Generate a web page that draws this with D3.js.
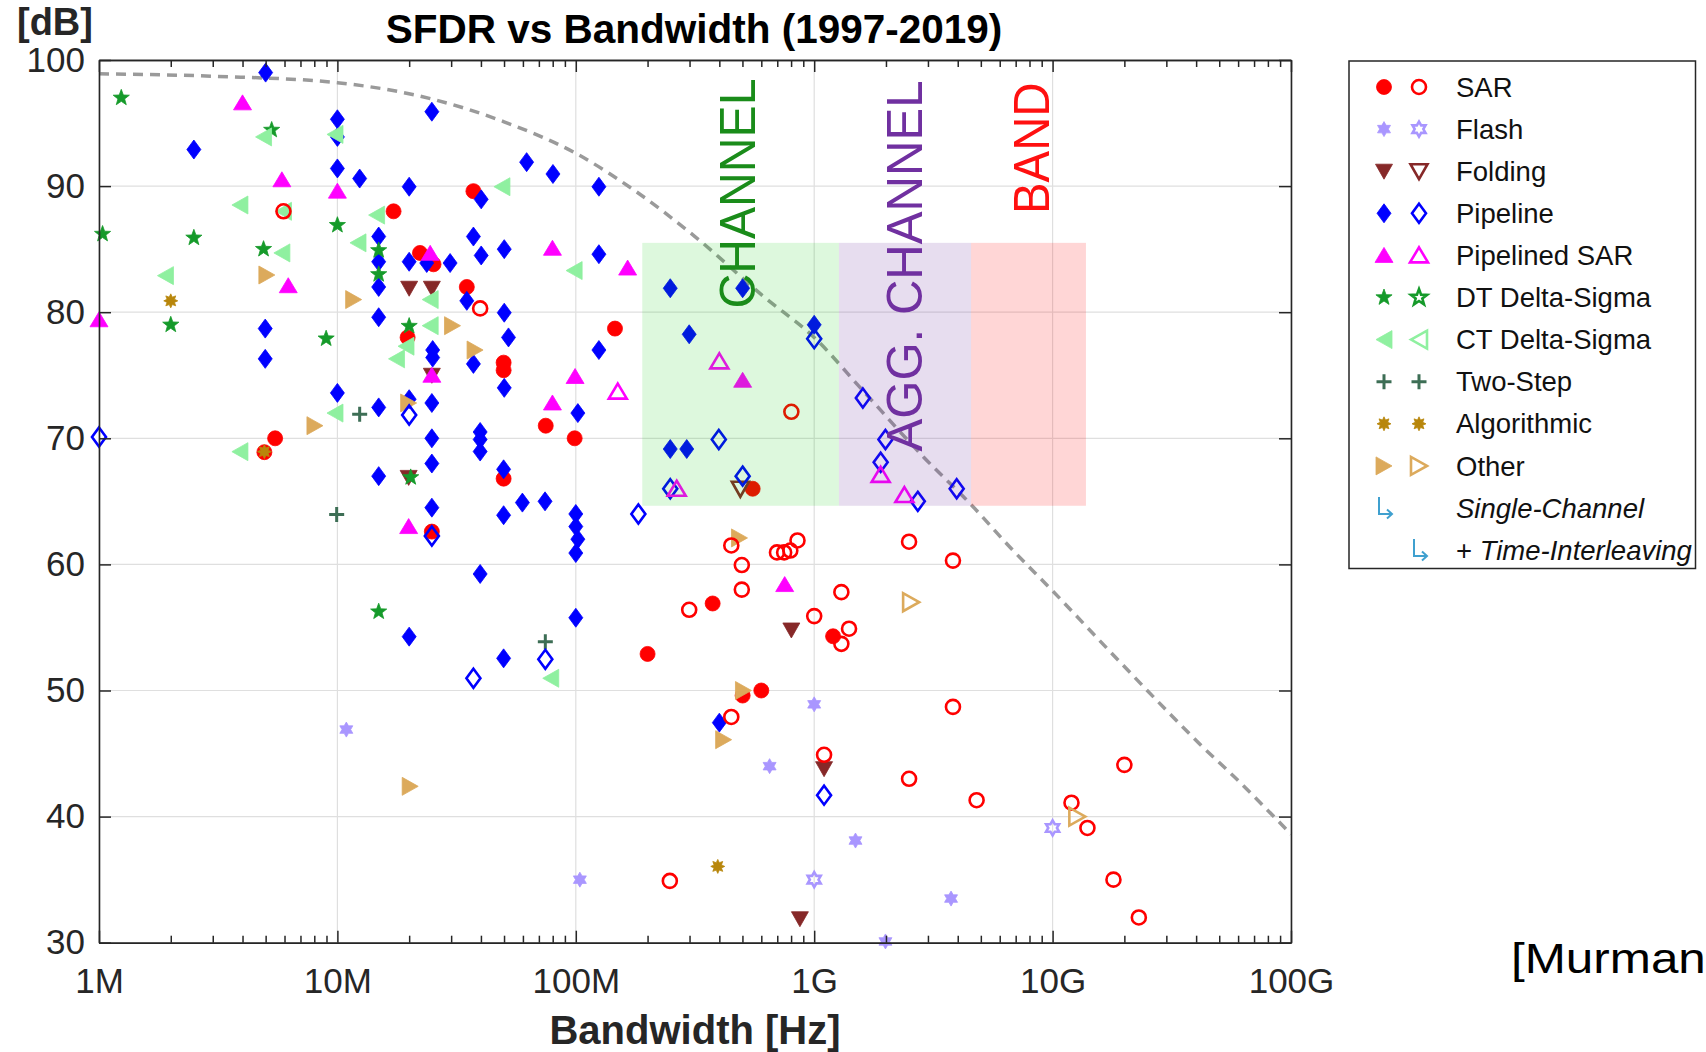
<!DOCTYPE html>
<html>
<head>
<meta charset="utf-8">
<script src="https://cdn.jsdelivr.net/npm/d3@7"></script>
<style>
  html, body { margin: 0; padding: 0; background: #fff; overflow: hidden; }
  svg { display: block; }
  text { font-family: "Liberation Sans", Arial, Helvetica, sans-serif; }
</style>
</head>
<body>
<div id="chart"></div>
<script>
// values: [bandwidth in Hz, SFDR in dB]
// "single" = single-channel (filled marker), "ti" = time-interleaved (open marker)
const sarSingle = [[17.2e6,88.0],[22.2e6,84.7],[25.3e6,83.8],[19.7e6,78.0],[34.9e6,82.0],[37.2e6,89.6],
  [49.8e6,76.0],[49.8e6,75.4],[49.8e6,66.8],[146e6,78.7],[74.8e6,71.0],[98.9e6,70.0],[5.48e6,70.0],
  [4.94e6,68.9],[24.9e6,62.6],[200e6,52.9],[375e6,56.9],[1.2e9,54.3],[501e6,49.6],[600e6,50.0],[552e6,66.0]];
const sarTI = [[5.94e6,88.0],[39.7e6,80.3],[802e6,72.1],[299e6,56.4],[248e6,34.9],[449e6,61.5],[698e6,60.95],
  [748e6,60.95],[794e6,61.1],[851e6,61.9],[497e6,59.95],[497e6,58.0],[2.5e9,61.8],[3.82e9,60.3],[1.3e9,57.8],
  [1.0e9,55.9],[1.4e9,54.9],[1.3e9,53.7],[3.82e9,48.7],[449e6,47.9],[1.1e9,44.9],[2.5e9,43.0],[4.8e9,41.3],
  [12e9,41.1],[14e9,39.1],[20e9,44.1],[18e9,35.0],[23e9,32.0]];
const flashSingle = [[10.9e6,46.9],[104e6,35.0],[1.0e9,48.9],[650e6,44.0],[1.49e9,38.1],[1.99e9,30.1],[3.75e9,33.5]];
const flashTI = [[1.0e9,35.0],[10e9,39.1]];
const foldingSingle = [[20e6,81.9],[24.9e6,81.9],[24.9e6,75.0],[19.9e6,66.9],[802e6,54.8],[1.1e9,43.8],[871e6,31.9]];
const foldingTI = [[490e6,66.0]];
const pipelineSingle = [[5.0e6,99.0],[2.5e6,92.9],[10e6,95.3],[10e6,93.9],[10e6,91.4],[12.4e6,90.6],[20e6,89.95],
  [24.9e6,95.9],[14.9e6,86.0],[14.9e6,84.0],[14.9e6,82.0],[14.9e6,79.6],[20e6,84.0],[23.7e6,83.9],[29.7e6,83.9],
  [4.98e6,78.7],[4.98e6,76.3],[25.1e6,77.0],[25.1e6,76.4],[34.9e6,80.9],[37.2e6,86.0],[40.1e6,88.95],[40.1e6,84.5],
  [50.1e6,85.0],[50.1e6,79.96],[52.2e6,78.0],[62.2e6,91.9],[80.2e6,90.96],[125e6,89.95],[125e6,84.6],[125e6,77.0],
  [37.2e6,75.9],[50.1e6,74.0],[102e6,72.0],[10e6,73.6],[14.9e6,72.45],[20e6,73.1],[24.9e6,72.8],[24.9e6,70.0],
  [39.7e6,70.5],[39.7e6,69.9],[39.7e6,68.95],[24.9e6,68.0],[49.8e6,67.54],[14.9e6,67.0],[24.9e6,64.5],[49.8e6,63.9],
  [59.7e6,64.9],[74.3e6,65.0],[100e6,64.0],[100e6,63.0],[102e6,62.0],[100e6,60.9],[39.7e6,59.24],[100e6,55.77],
  [20e6,54.27],[49.8e6,52.55],[249e6,81.9],[501e6,81.9],[299e6,78.25],[1.0e9,79.0],[249e6,69.15],[292e6,69.15],
  [400e6,47.45]];
const pipelineTI = [[1e6,70.1],[20e6,71.85],[24.9e6,62.25],[183e6,64.0],[74.5e6,52.47],[37.2e6,50.97],[1.0e9,77.9],
  [1.6e9,73.2],[398e6,69.9],[1.99e9,69.9],[1.9e9,68.1],[501e6,67.0],[249e6,66.0],[2.72e9,65.0],[3.96e9,66.0],[1.1e9,41.7]];
const psarSingle = [[4.0e6,96.6],[5.85e6,90.5],[10e6,89.6],[1e6,79.4],[6.22e6,82.1],[24.5e6,84.67],[24.9e6,75.0],
  [79.8e6,85.07],[165e6,83.5],[99.3e6,74.9],[79.8e6,72.8],[19.9e6,63.0],[501e6,74.6],[752e6,58.4]];
const psarTI = [[150e6,73.7],[400e6,76.1],[265e6,66.0],[1.9e9,67.1],[2.39e9,65.5]];
const dtSingle = [[1.24e6,97.0],[5.3e6,94.45],[1.035e6,86.2],[2.5e6,85.9],[10e6,86.9],[4.9e6,85.0],[14.9e6,84.9],
  [14.9e6,83.0],[2.0e6,79.0],[8.97e6,77.9],[20e6,78.9],[20.3e6,66.9],[14.9e6,56.25]];
const dtTI = [];
const ctSingle = [[4.9e6,93.9],[9.77e6,94.1],[3.9e6,88.5],[5.94e6,88.0],[14.6e6,87.7],[12.2e6,85.5],[5.85e6,84.7],
  [1.9e6,82.9],[24.5e6,81.0],[24.5e6,78.93],[19.4e6,77.3],[17.7e6,76.3],[9.77e6,72.0],[3.9e6,68.94],[49e6,89.95],
  [98.4e6,83.3],[78.5e6,50.97]];
const ctTI = [];
const twoStepSingle = [[12.4e6,71.9],[9.93e6,63.95],[74.5e6,53.87]];
const twoStepTI = [];
const algSingle = [[2.0e6,80.9],[4.94e6,68.94],[394e6,36.05]];
const algTI = [];
const otherSingle = [[5.06e6,82.95],[11.7e6,81.0],[30.4e6,78.93],[37.8e6,77.0],[19.9e6,72.8],[8.05e6,71.0],
  [20.2e6,42.4],[486e6,62.1],[505e6,50.0],[417e6,46.1]];
const otherTI = [[2.55e9,57.0],[12.7e9,40.0]];

// dashed limit curve
const limitCurve = [[1e6,98.9],[3.16e6,98.7],[1e7,98.2],[2.5e7,96.9],[5e7,95.1],[1e8,92.6],[1.78e8,89.6],
  [3.16e8,86.0],[6.17e8,81.2],[1e9,78.0],[1.58e9,73.9],[2.88e9,68.5],[4.52e9,64.8],[6.6e9,61.4],[1e10,57.9],
  [1.78e10,52.9],[3.16e10,48.0],[4.17e10,45.7],[5.75e10,43.2],[1e11,38.6]];

// shaded regions: [from Hz, to Hz], SFDR band
const regionEdges = [190e6, 1.27e9, 4.55e9, 13.8e9];
const regionBand = [64.65, 85.5];
const regionLabels = ["CHANNEL", "AGG. CHANNEL", "BAND"];

const xTicks = [1e6, 1e7, 1e8, 1e9, 1e10, 1e11];
const xTickLabels = ["1M", "10M", "100M", "1G", "10G", "100G"];
const yTicks = [30, 40, 50, 60, 70, 80, 90, 100];

const dims = { width: 1706, height: 1052, left: 99, right: 1291, top: 60, bottom: 942.7 };

function polygon(pts) { return "M" + pts.map(p => p.join(",")).join("L") + "Z"; }
function starPath(n, R, r) {
  const pts = [];
  for (let k = 0; k < 2 * n; k++) {
    const a = -Math.PI / 2 + k * Math.PI / n;
    const rad = k % 2 === 0 ? R : r;
    pts.push([(rad * Math.cos(a)).toFixed(2), (rad * Math.sin(a)).toFixed(2)]);
  }
  return polygon(pts);
}
const shapes = {
  circle: "M-7.5,0A7.5,7.5 0 1,0 7.5,0A7.5,7.5 0 1,0 -7.5,0Z",
  circleOpen: "M-7,0A7,7 0 1,0 7,0A7,7 0 1,0 -7,0Z",
  hexagram: starPath(6, 7.5, 7.5 / Math.sqrt(3)),
  triDown: polygon([[-8.5,-7],[8.5,-7],[0,8]]),
  diamond: polygon([[0,-9.5],[7,0],[0,9.5],[-7,0]]),
  triUp: polygon([[0,-8],[9,7],[-9,7]]),
  pentagram: starPath(5, 8.5, 3.5),
  triLeft: polygon([[-8,0],[8,-9],[8,9]]),
  plus: "M-7.5,0H7.5M0,-7.5V7.5",
  burst: starPath(8, 7, 4),
  triRight: polygon([[8,0],[-8,-9],[-8,9]])
};

const series = [
  { name: "SAR", color: "#ff0000", shape: "circle", single: sarSingle, ti: sarTI },
  { name: "Flash", color: "#a996ff", shape: "hexagram", single: flashSingle, ti: flashTI },
  { name: "Folding", color: "#862828", shape: "triDown", single: foldingSingle, ti: foldingTI },
  { name: "Pipeline", color: "#0000ff", shape: "diamond", single: pipelineSingle, ti: pipelineTI },
  { name: "Pipelined SAR", color: "#ff00ff", shape: "triUp", single: psarSingle, ti: psarTI },
  { name: "DT Delta-Sigma", color: "#159a2a", shape: "pentagram", single: dtSingle, ti: dtTI },
  { name: "CT Delta-Sigma", color: "#8ff0a0", shape: "triLeft", single: ctSingle, ti: ctTI },
  { name: "Two-Step", color: "#3d6e55", shape: "plus", single: twoStepSingle, ti: twoStepTI, lineOnly: true },
  { name: "Algorithmic", color: "#b8860b", shape: "burst", single: algSingle, ti: algTI, sameOpen: true },
  { name: "Other", color: "#dcaa5c", shape: "triRight", single: otherSingle, ti: otherTI }
];

function styleMarker(sel, s, open) {
  if (s.lineOnly) {
    sel.attr("d", shapes.plus).attr("fill", "none").attr("stroke", s.color).attr("stroke-width", 3);
  } else if (open && !s.sameOpen) {
    sel.attr("d", s.shape === "circle" ? shapes.circleOpen : shapes[s.shape])
      .attr("fill", "none").attr("stroke", s.color).attr("stroke-width", 2.6);
  } else {
    sel.attr("d", shapes[s.shape]).attr("fill", s.color).attr("stroke", s.color).attr("stroke-width", 0.8);
  }
}

const svg = d3.select("#chart").append("svg")
  .attr("width", dims.width).attr("height", dims.height);

const x = d3.scaleLog().domain([1e6, 1e11]).range([dims.left, dims.right]);
const y = d3.scaleLinear().domain([30, 100]).range([dims.bottom, dims.top]);

// grid
const grid = svg.append("g").attr("stroke", "#dfdfdf").attr("stroke-width", 1.2);
grid.selectAll(null).data(xTicks).join("line")
  .attr("x1", d => x(d)).attr("x2", d => x(d)).attr("y1", dims.top).attr("y2", dims.bottom);
grid.selectAll(null).data(yTicks).join("line")
  .attr("y1", d => y(d)).attr("y2", d => y(d)).attr("x1", dims.left).attr("x2", dims.right);

// dashed curve
svg.append("path")
  .datum(limitCurve)
  .attr("fill", "none").attr("stroke", "#9a9a9a").attr("stroke-width", 3.5)
  .attr("stroke-dasharray", "10,7")
  .attr("d", d3.line().x(d => x(d[0])).y(d => y(d[1])).curve(d3.curveMonotoneX));

// markers: single-channel first, interleaved on top
const markG = svg.append("g");
series.forEach(s => {
  markG.selectAll(null).data(s.single).join("path")
    .attr("transform", d => `translate(${x(d[0])},${y(d[1])})`)
    .call(sel => styleMarker(sel, s, false));
});
series.forEach(s => {
  markG.selectAll(null).data(s.ti).join("path")
    .attr("transform", d => `translate(${x(d[0])},${y(d[1])})`)
    .call(sel => styleMarker(sel, s, true));
});

// translucent regions above the markers
const regionFill = [["rgb(0,200,0)", 0.135], ["#7030a0", 0.165], ["#ff0000", 0.16]];
regionFill.forEach((f, i) => {
  svg.append("rect")
    .attr("x", x(regionEdges[i])).attr("width", x(regionEdges[i + 1]) - x(regionEdges[i]))
    .attr("y", y(regionBand[1])).attr("height", y(regionBand[0]) - y(regionBand[1]))
    .attr("fill", f[0]).attr("fill-opacity", f[1]);
});

// region labels (rotated)
const labelPos = [[755, 308.5, 230, "#1a8c1a"], [921.7, 451.5, 371, "#7030a0"], [1048.7, 214, 131.5, "#ff1010"]];
regionLabels.forEach((t, i) => {
  const p = labelPos[i];
  svg.append("text")
    .attr("transform", `translate(${p[0]},${p[1]}) rotate(-90)`)
    .attr("font-size", 50).attr("fill", p[3])
    .attr("textLength", p[2]).attr("lengthAdjust", "spacingAndGlyphs")
    .text(t);
});

// axes
function styleAxis(g) {
  g.attr("font-family", "'Liberation Sans', Arial, sans-serif").attr("font-size", 35);
  g.selectAll(".domain").attr("stroke", "#262626").attr("stroke-width", 1.6);
  g.selectAll(".tick line").attr("stroke", "#262626").attr("stroke-width", 1.5);
  g.selectAll(".tick text").attr("fill", "#262626");
}
const xMinor = [];
xTicks.slice(0, -1).forEach(d => { for (let k = 2; k < 10; k++) xMinor.push(d * k); });

svg.append("g").attr("transform", `translate(0,${dims.bottom})`)
  .call(d3.axisBottom(x).tickValues(xTicks).tickFormat((d, i) => xTickLabels[i])
    .tickSize(-12).tickSizeOuter(0).tickPadding(25))
  .call(styleAxis);
svg.append("g").attr("transform", `translate(0,${dims.bottom})`)
  .call(d3.axisBottom(x).tickValues(xMinor).tickFormat("").tickSize(-7).tickSizeOuter(0))
  .call(styleAxis);
svg.append("g").attr("transform", `translate(0,${dims.top})`)
  .call(d3.axisTop(x).tickValues(xTicks).tickFormat("").tickSize(-12).tickSizeOuter(0))
  .call(styleAxis);
svg.append("g").attr("transform", `translate(0,${dims.top})`)
  .call(d3.axisTop(x).tickValues(xMinor).tickFormat("").tickSize(-7).tickSizeOuter(0))
  .call(styleAxis);
svg.append("g").attr("transform", `translate(${dims.left},0)`)
  .call(d3.axisLeft(y).tickValues(yTicks).tickFormat(d3.format("d"))
    .tickSize(-12).tickSizeOuter(0).tickPadding(14))
  .call(styleAxis);
svg.append("g").attr("transform", `translate(${dims.right},0)`)
  .call(d3.axisRight(y).tickValues(yTicks).tickFormat("").tickSize(-12).tickSizeOuter(0))
  .call(styleAxis);

// titles
svg.append("text").attr("x", 694).attr("y", 43).attr("text-anchor", "middle")
  .attr("font-size", 40.5).attr("font-weight", "bold").attr("fill", "#000")
  .text("SFDR vs Bandwidth (1997-2019)");
svg.append("text").attr("x", 17).attr("y", 35)
  .attr("font-size", 38).attr("font-weight", "bold").attr("fill", "#262626")
  .text("[dB]");
svg.append("text").attr("x", 695).attr("y", 1044).attr("text-anchor", "middle")
  .attr("font-size", 40).attr("font-weight", "bold").attr("fill", "#262626")
  .text("Bandwidth [Hz]");
svg.append("text").attr("x", 1511).attr("y", 973)
  .attr("font-family", "'DejaVu Sans', Verdana, sans-serif").attr("font-size", 42).attr("fill", "#000")
  .attr("textLength", 236).attr("lengthAdjust", "spacingAndGlyphs")
  .text("[Murmann]");

// legend
const legend = { x: 1349, y: 61, w: 346.5, h: 507.5, row0: 87, step: 42.1, c1: 1384, c2: 1419, tx: 1456 };
const lg = svg.append("g");
lg.append("rect").attr("x", legend.x).attr("y", legend.y).attr("width", legend.w).attr("height", legend.h)
  .attr("fill", "#fff").attr("stroke", "#262626").attr("stroke-width", 1.5);
series.forEach((s, i) => {
  const cy = legend.row0 + i * legend.step;
  lg.append("path").attr("transform", `translate(${legend.c1},${cy})`).call(sel => styleMarker(sel, s, false));
  lg.append("path").attr("transform", `translate(${legend.c2},${cy})`).call(sel => styleMarker(sel, s, true));
  lg.append("text").attr("x", legend.tx).attr("y", cy).attr("dy", "0.35em")
    .attr("font-size", 27.5).attr("fill", "#111").text(s.name);
});
function arrow(cx, cy) {
  lg.append("path")
    .attr("d", `M${cx - 5},${cy - 9}V${cy + 8}H${cx + 8}M${cx + 3},${cy + 3.5}L${cx + 8},${cy + 8}L${cx + 3},${cy + 12.5}`)
    .attr("fill", "none").attr("stroke", "#3fa0cf").attr("stroke-width", 2);
}
const scY = legend.row0 + series.length * legend.step;
arrow(legend.c1, scY - 2);
lg.append("text").attr("x", legend.tx).attr("y", scY).attr("dy", "0.35em")
  .attr("font-size", 27.5).attr("font-style", "italic").attr("fill", "#111").text("Single-Channel");
const tiY = scY + legend.step;
arrow(legend.c2, tiY - 2);
const tiText = lg.append("text").attr("x", legend.tx).attr("y", tiY).attr("dy", "0.35em")
  .attr("font-size", 27.5).attr("fill", "#111");
tiText.append("tspan").text("+ ");
tiText.append("tspan").attr("font-style", "italic").text("Time-Interleaving");
</script>
</body>
</html>
